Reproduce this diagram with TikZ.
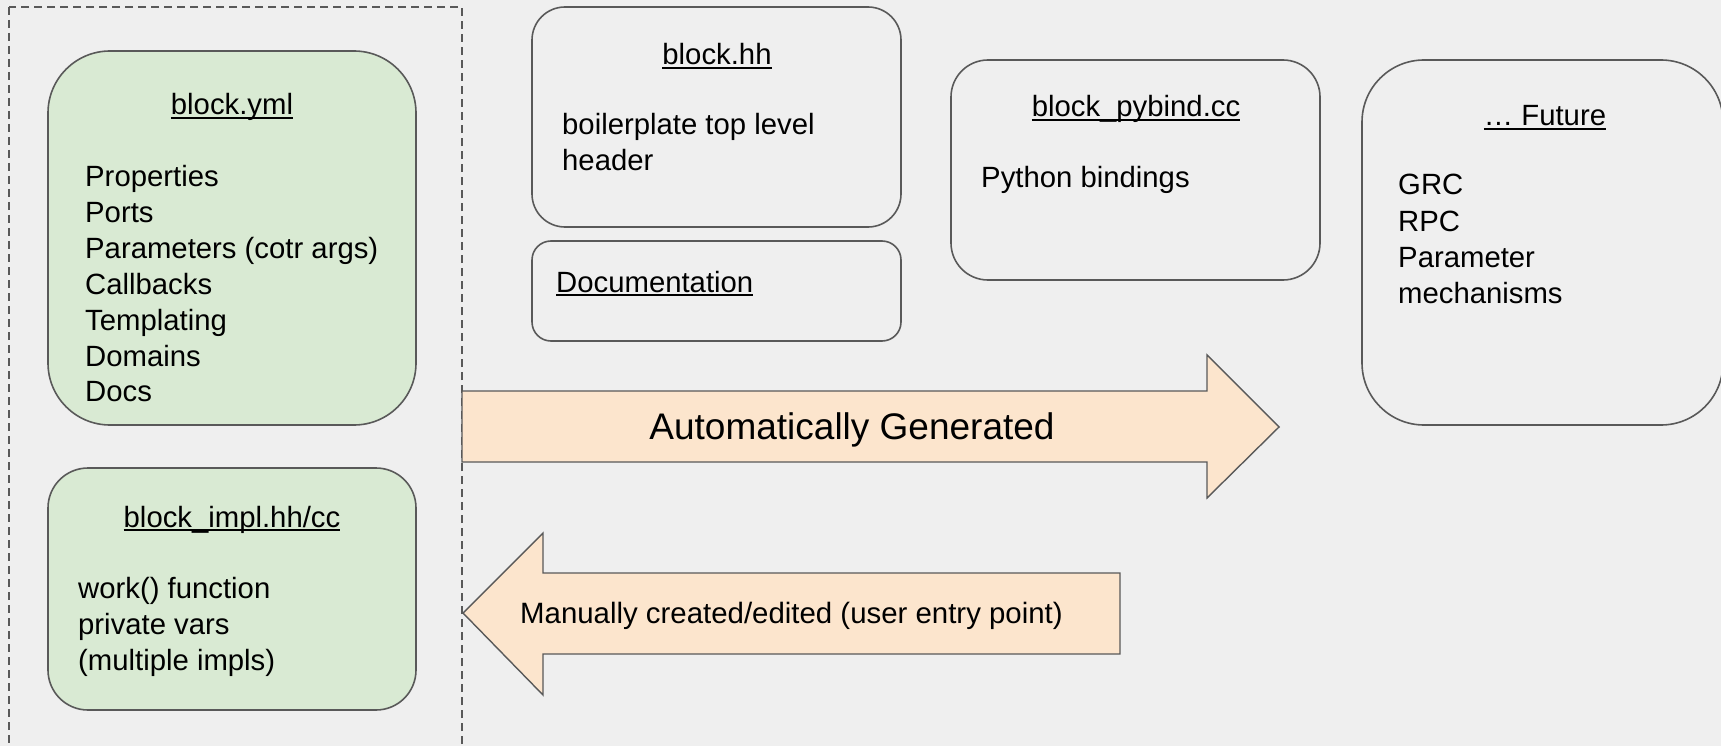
\documentclass[tikz,border=0pt]{standalone}
\usepackage{fontspec}
\setmainfont{Liberation Sans}
\usepackage{xcolor}
\usepackage{tikz}
\usetikzlibrary{calc}
\definecolor{bgcol}{HTML}{EFEFEF}
\definecolor{ymlgreen}{HTML}{D9EAD3}
\definecolor{genorange}{HTML}{FCE5CD}
\definecolor{edgegray}{HTML}{595959}
\newcommand\undl[1]{\setbox0\hbox{#1}\rlap{\rule[-4pt]{\wd0}{2.4pt}}\box0}

\begin{document}
\begin{tikzpicture}[x=1pt,y=-1pt,
 file/.style={draw=edgegray,line width=1.6pt},
 item/.style={anchor=base west,inner sep=0pt,font=\fontsize{29.3}{35}\selectfont},
 head/.style={anchor=base,inner sep=0pt,font=\fontsize{29.3}{35}\selectfont},
 bigarrow/.style={draw=edgegray,line width=1.4pt,fill=genorange,line join=miter}]
\fill[bgcol] (0,0) rectangle (1721,746);
\clip (0,0) rectangle (1721,746);
\draw[edgegray,line width=1.2pt,dash pattern=on 8pt off 5pt] (9,7) rectangle (462,760);
% the files
\node[file,fill=ymlgreen,rounded corners=62pt,minimum width=368pt,minimum height=374pt] (yml) at (232,238) {};
\node[file,fill=ymlgreen,rounded corners=40pt,minimum width=368pt,minimum height=242pt] (impl) at (232,589) {};
\node[file,rounded corners=33pt,minimum width=369pt,minimum height=220pt] (hh) at (716.5,117) {};
\node[file,rounded corners=19pt,minimum width=369pt,minimum height=100pt] (doc) at (716.5,291) {};
\node[file,rounded corners=37pt,minimum width=369pt,minimum height=220pt] (pybind) at (1135.5,170) {};
\node[file,rounded corners=62pt,minimum width=361pt,minimum height=365pt] (future) at (1542.5,242.5) {};
% arrows
\draw[bigarrow] (462,391)--(1207,391)--(1207,355)--(1279,427)--(1207,498)--(1207,462)--(462,462)--cycle;
\draw[bigarrow] (463,613)--(543,533)--(543,573)--(1120,573)--(1120,654)--(543,654)--(543,695)--cycle;
\node[head,font=\fontsize{37}{42}\selectfont] (auto) at (852,439) {Automatically Generated};
\node[item,font=\fontsize{29.4}{34}\selectfont] (manual) at (520,623) {Manually created/edited (user entry point)};
% labels
\node[head] (ymltitle) at (232,115) {\undl{block.yml}};
\foreach \t [count=\i from 0] in {Properties,Ports,Parameters (cotr args),Callbacks,Templating,Domains,Docs}
 \node[item] (yml-\i) at (85,187+35.8*\i) {\t};
\node[head] (impltitle) at (232,527) {\undl{block\_impl.hh/cc}};
\foreach \t [count=\i from 0] in {work() function,private vars,(multiple impls)}
 \node[item] (impl-\i) at (78,598+36*\i) {\t};
\node[head] (hhtitle) at (717,65) {\undl{block.hh}};
\foreach \t [count=\i from 0] in {boilerplate top level,header}
 \node[item] (hh-\i) at (562,135+36*\i) {\t};
\node[item] (doctitle) at (556,292) {\undl{Documentation}};
\node[head] (pybindtitle) at (1136,117) {\undl{block\_pybind.cc}};
\node[item] (pybind-0) at (981,188) {Python bindings};
\node[head] (futuretitle) at (1545,126) {\undl{… Future}};
\foreach \t [count=\i from 0] in {GRC,RPC,Parameter,mechanisms}
 \node[item] (future-\i) at (1398,195+36.2*\i) {\t};
\end{tikzpicture}
\end{document}
